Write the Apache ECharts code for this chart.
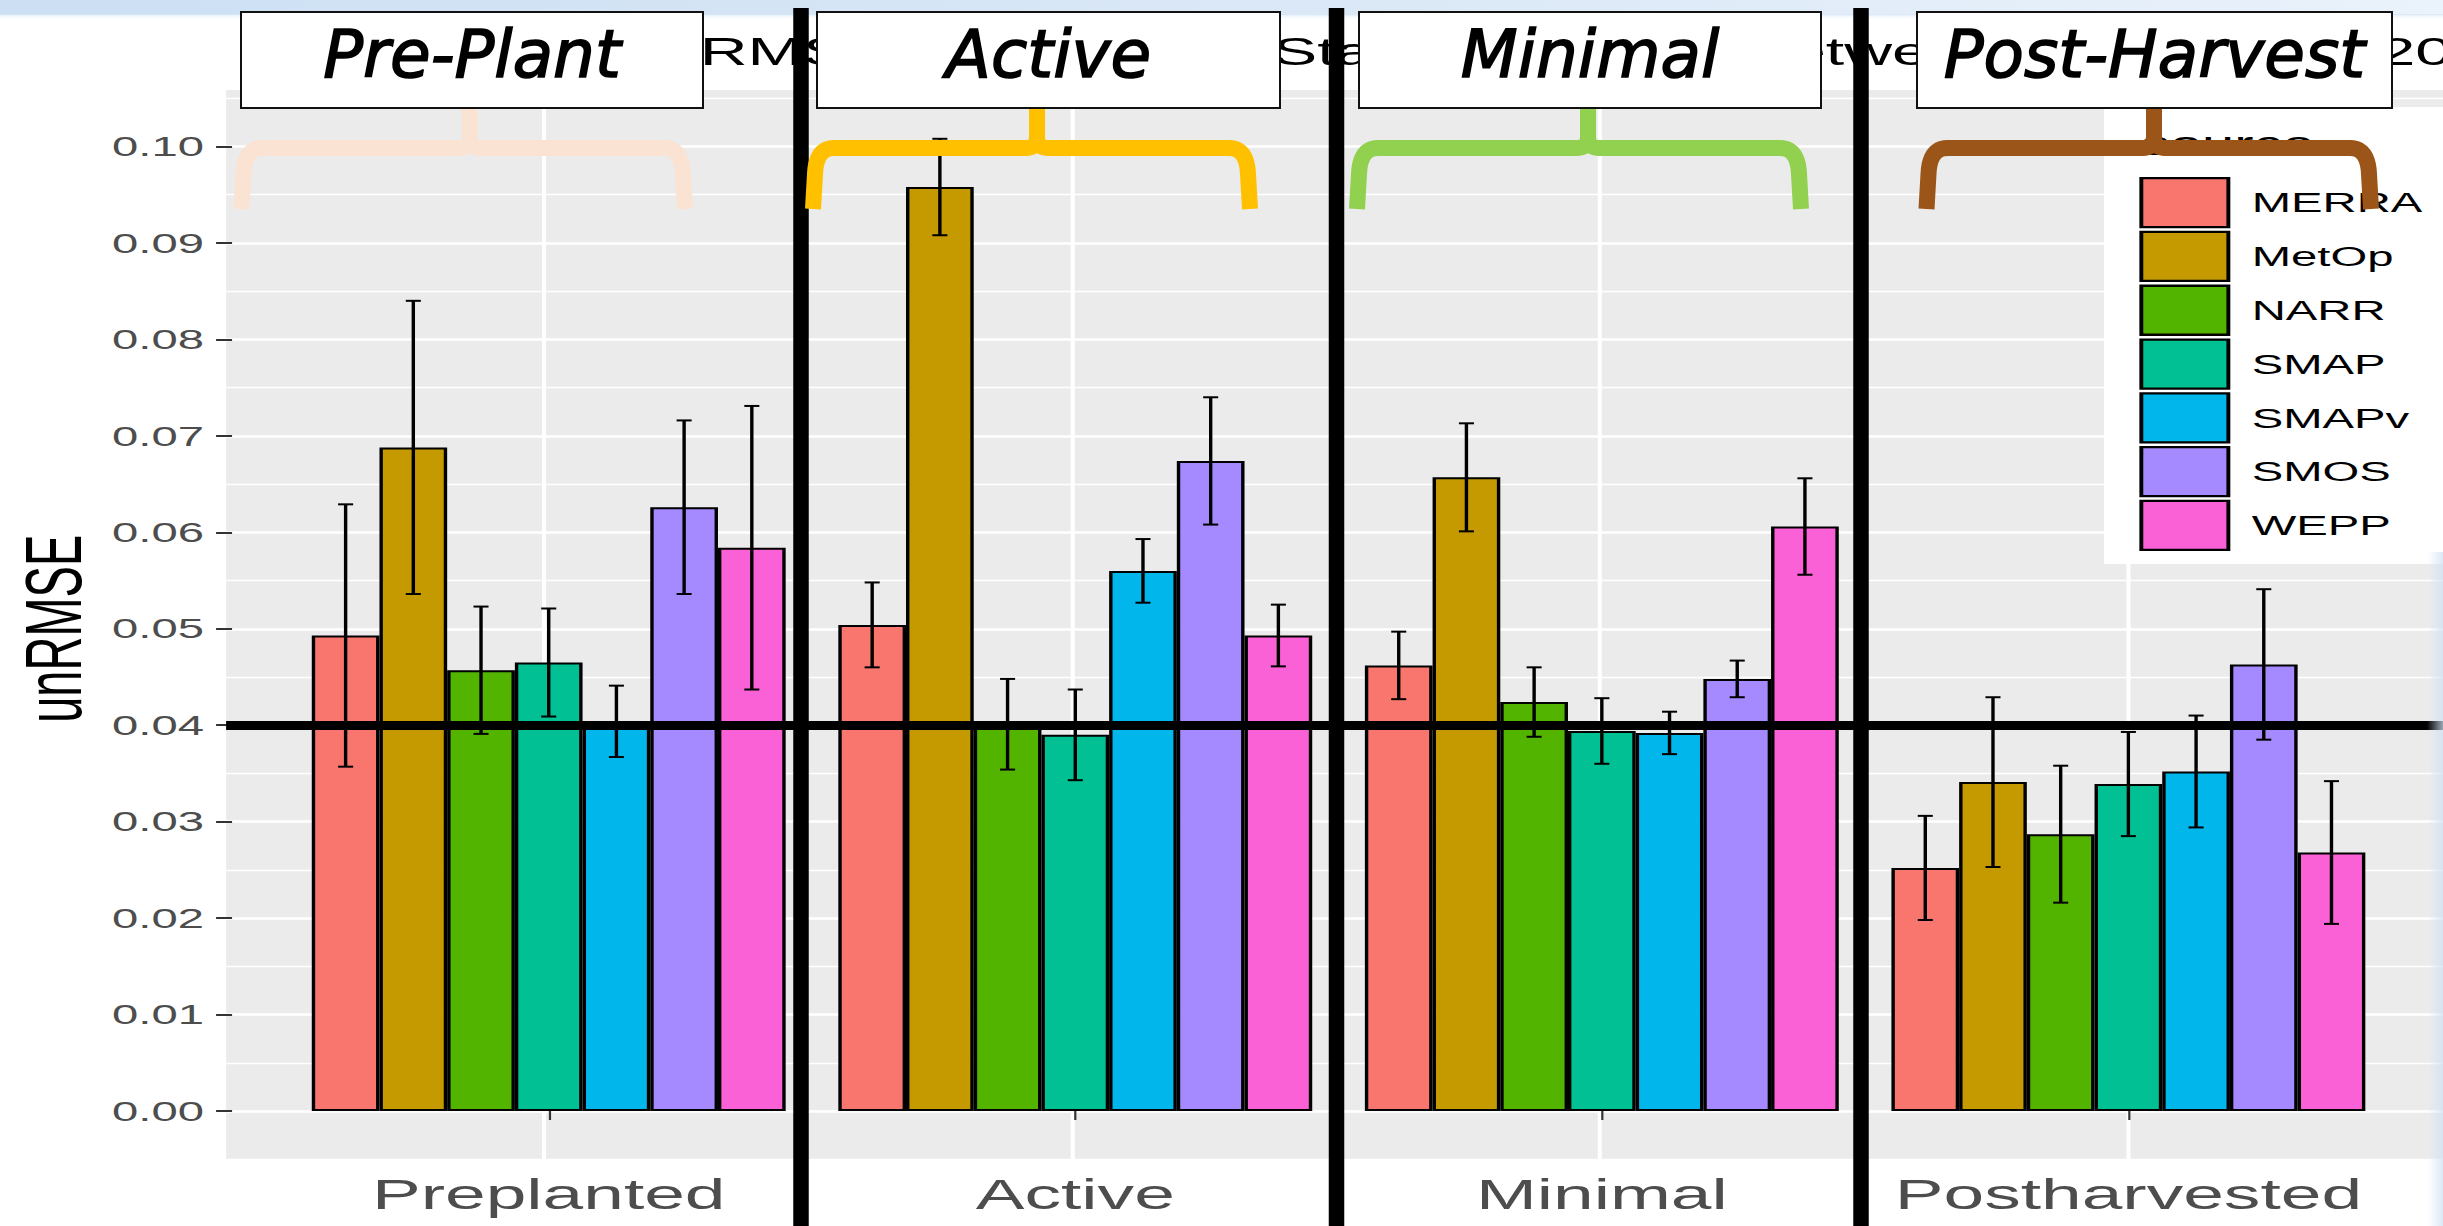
<!DOCTYPE html>
<html>
<head>
<meta charset="utf-8">
<script src="https://cdn.jsdelivr.net/npm/echarts@6/dist/echarts.min.js"></script>
<style>
  html, body { margin: 0; padding: 0; background: #fff; overflow: hidden; }
  #wrap { position: relative; width: 2443px; height: 1226px; overflow: hidden; background: #fff; }
  /* the plot is drawn narrow and widened horizontally, like the exported figure */
  #plot { position: absolute; left: 0; top: 0; width: 1437px; height: 1226px;
          transform: scaleX(1.70007); transform-origin: 0 0; }
  #notes { position: absolute; left: 0; top: 0; width: 2443px; height: 1226px; pointer-events: none; }
</style>
</head>
<body>
<div id="wrap">
  <div id="plot"></div>
  <div id="notes"></div>
</div>
<script>
// ---------- data ----------
const stages  = ['Preplanted', 'Active', 'Minimal', 'Postharvested'];
const sources = ['MERRA', 'MetOp', 'NARR', 'SMAP', 'SMAPv', 'SMOS', 'WEPP'];

// mean unRMSE per stage
const merra  = [0.0493, 0.0504, 0.0462, 0.0252];
const metop  = [0.0688, 0.0958, 0.0657, 0.0341];
const narr   = [0.0457, 0.0401, 0.0424, 0.0287];
const smap   = [0.0465, 0.0390, 0.0394, 0.0339];
const smapv  = [0.0404, 0.0560, 0.0392, 0.0352];
const smos   = [0.0626, 0.0674, 0.0448, 0.0463];
const wepp   = [0.0584, 0.0493, 0.0606, 0.0268];

// half-width of the error bars
const merraSd = [0.0136, 0.0044, 0.0035, 0.0054];
const metopSd = [0.0152, 0.0050, 0.0056, 0.0088];
const narrSd  = [0.0066, 0.0047, 0.0036, 0.0071];
const smapSd  = [0.0056, 0.0047, 0.0034, 0.0054];
const smapvSd = [0.0037, 0.0033, 0.0022, 0.0058];
const smosSd  = [0.0090, 0.0066, 0.0019, 0.0078];
const weppSd  = [0.0147, 0.0032, 0.0050, 0.0074];

const threshold = 0.04;
const stageNotes = ['Pre-Plant', 'Active', 'Minimal', 'Post-Harvest'];
const chartTitle = 'unRMSE for Different Stages of Grain between Sources for 2017';

// ---------- styling ----------
const values = [merra, metop, narr, smap, smapv, smos, wepp];
const spreads = [merraSd, metopSd, narrSd, smapSd, smapvSd, smosSd, weppSd];
const colors = ['#F8766D', '#C49A00', '#53B400', '#00C094', '#00B6EB', '#A58AFF', '#FB61D7'];
const FONT = '"Liberation Sans", Arial, Helvetica, sans-serif';

// layout in the plot's own (unwidened) pixels
const Y0 = 1111, PX = 9645;               // pixel row of 0 and pixels per unit
const yPix = v => Y0 - v * PX;
const PANEL_L = 133, PANEL_W = 1305, PANEL_T = 90, PANEL_B = 1159;
const BAND = 310.6, C0 = 319.7;           // category spacing and first centre

const errData = [];
values.forEach((arr, s) => arr.forEach((v, i) => {
  errData.push([i, s, v - spreads[s][i], v + spreads[s][i]]);
}));

function renderErr(params, api) {
  const cat = api.value(0), s = api.value(1);
  const lo = api.coord([cat, api.value(2)]);
  const hi = api.coord([cat, api.value(3)]);
  const band = api.size([1, 0])[0];
  const x = lo[0] + (s - 3) * band * 0.9 / 7;
  const half = band * 0.1 / 7;
  const style = { stroke: '#000', lineWidth: 2, fill: null };
  return {
    type: 'group',
    children: [
      { type: 'line', shape: { x1: x, y1: hi[1], x2: x, y2: lo[1] }, style },
      { type: 'line', shape: { x1: x - half, y1: hi[1], x2: x + half, y2: hi[1] }, style },
      { type: 'line', shape: { x1: x - half, y1: lo[1], x2: x + half, y2: lo[1] }, style }
    ]
  };
}

const hidden = { show: false };
const plot = echarts.init(document.getElementById('plot'), null, { renderer: 'svg' });
plot.setOption({
  animation: false,
  backgroundColor: '#fff',
  textStyle: { fontFamily: FONT },
  title: [
    { text: chartTitle, left: 368.2, top: 32, padding: 0,
      textStyle: { fontSize: 39, fontWeight: 'normal', color: '#000', fontFamily: FONT } },
    { text: 'source', left: 1259.4, top: 126, padding: 0, z: 8,
      textStyle: { fontSize: 34, fontWeight: 'normal', color: '#000', fontFamily: FONT } }
  ],
  legend: {
    data: sources, orient: 'vertical', left: 1237.6, top: 107,
    padding: [70, 40, 13, 20.8], itemWidth: 51.2, itemHeight: 49, itemGap: 2.5,
    icon: 'rect', backgroundColor: '#fff', selectedMode: false,
    itemStyle: { borderColor: '#000', borderWidth: 2.3 },
    textStyle: { fontSize: 27.8, color: '#000', fontFamily: FONT, padding: [0, 0, 0, 8.7] }
  },
  grid: [
    // 0: grey panel
    { left: PANEL_L, top: PANEL_T, width: PANEL_W, height: PANEL_B - PANEL_T,
      show: true, backgroundColor: '#EBEBEB', borderWidth: 0 },
    // 1: minor horizontal grid
    { left: PANEL_L, top: yPix(0.105), width: PANEL_W, height: yPix(-0.005) - yPix(0.105) },
    // 2: major horizontal grid + threshold line
    { left: PANEL_L, top: yPix(0.1), width: PANEL_W, height: yPix(0) - yPix(0.1) },
    // 3: vertical grid at the category centres
    { left: C0, top: PANEL_T, width: 3 * BAND, height: PANEL_B - PANEL_T },
    // 4: bars
    { left: C0 - BAND / 2, top: yPix(0.1), width: 4 * BAND, height: yPix(0) - yPix(0.1) }
  ],
  xAxis: [
    { gridIndex: 0, type: 'value', min: 0, max: 1, show: false },
    { gridIndex: 1, type: 'value', min: 0, max: 1, show: false },
    { gridIndex: 2, type: 'value', min: 0, max: 1, show: false },
    { gridIndex: 3, type: 'value', min: 0, max: 3, interval: 1, z: 1,
      axisLine: hidden, axisTick: hidden, axisLabel: hidden,
      splitLine: { show: true, lineStyle: { color: '#fff', width: 2.4 } } },
    { gridIndex: 4, type: 'category', data: stages, offset: PANEL_B - Y0, z: 2,
      axisLine: hidden,
      axisTick: { show: true, alignWithLabel: true, length: 9, lineStyle: { color: '#333', width: 1.3 } },
      axisLabel: { interval: 0, margin: 14, fontSize: 43, color: '#4D4D4D', fontFamily: FONT },
      splitLine: hidden }
  ],
  yAxis: [
    { gridIndex: 0, type: 'value', min: 0, max: 1, show: false },
    { gridIndex: 1, type: 'value', min: -0.005, max: 0.105, interval: 0.005, z: 1,
      axisLine: hidden, axisTick: hidden, axisLabel: hidden,
      splitLine: { show: true, lineStyle: { color: '#fff', width: 1.4 } } },
    { gridIndex: 2, type: 'value', min: 0, max: 0.1, interval: 0.01, z: 1,
      axisLine: hidden, axisTick: hidden, axisLabel: hidden,
      splitLine: { show: true, lineStyle: { color: '#fff', width: 2.6 } } },
    { gridIndex: 3, type: 'value', min: 0, max: 1, show: false },
    { gridIndex: 4, type: 'value', min: 0, max: 0.1, interval: 0.01, z: 2,
      offset: C0 - BAND / 2 - PANEL_L,
      axisLine: hidden,
      axisTick: { show: true, length: 9.4, lineStyle: { color: '#333', width: 2 } },
      axisLabel: { margin: 16.5, fontSize: 27.8, color: '#4D4D4D', fontFamily: FONT,
                   formatter: v => v.toFixed(2) },
      splitLine: hidden,
      name: 'unRMSE', nameLocation: 'middle', nameGap: 78,
      nameTextStyle: { fontSize: 47, color: '#000', fontFamily: FONT } }
  ],
  series: [
    ...sources.map((name, s) => ({
      type: 'bar', name, xAxisIndex: 4, yAxisIndex: 4, data: values[s],
      barGap: '0%', barCategoryGap: '10%', z: 3, silent: true,
      itemStyle: { color: colors[s], borderColor: '#000', borderWidth: 2 }
    })),
    { type: 'custom', name: 'error bars', xAxisIndex: 4, yAxisIndex: 4, z: 4, silent: true,
      renderItem: renderErr, data: errData, encode: { x: 0, y: [2, 3] } },
    { type: 'line', name: 'threshold', xAxisIndex: 2, yAxisIndex: 2, data: [], silent: true,
      markLine: { silent: true, z: 6, symbol: ['none', 'none'], label: { show: false },
                  lineStyle: { color: '#000', width: 9, type: 'solid' },
                  data: [{ yAxis: threshold }] } }
  ]
});

// ---------- slide annotations drawn on top (page pixels) ----------
const noteBoxes = [
  { x: 241, w: 462 }, { x: 817, w: 463 }, { x: 1359, w: 462 }, { x: 1917, w: 475 }
];
const braces = [
  { xl: 244.5, xc: 470, xr: 682, color: '#FBE3D3' },
  { xl: 816, xc: 1037, xr: 1247, color: '#FFC000' },
  { xl: 1360, xc: 1588, xr: 1798, color: '#92D050' },
  { xl: 1929.5, xc: 2154, xr: 2368, color: '#9C5518' }
];
const dividers = [801, 1336.5, 1861];

// sample a quadratic curve into polyline points
function quad(p0, p1, p2, n) {
  const pts = [];
  for (let k = 1; k <= n; k++) {
    const t = k / n, a = (1 - t) * (1 - t), b = 2 * t * (1 - t), c = t * t;
    pts.push([a * p0[0] + b * p1[0] + c * p2[0], a * p0[1] + b * p1[1] + c * p2[1]]);
  }
  return pts;
}
// one half of a horizontal curly brace, from a leg end to the centre point
function braceHalf(xLeg, xc, withStem) {
  const ym = 148, yb = 209, yt = 100, r = 18, r2 = 11, dir = xc > xLeg ? 1 : -1;
  const pts = [[xLeg - dir * 3, yb], [xLeg - dir * 1, ym + r + 8]];
  pts.push(...quad([xLeg - dir * 1, ym + r + 8], [xLeg, ym], [xLeg + dir * r, ym], 10));
  pts.push([xc - dir * r2, ym]);
  pts.push(...quad([xc - dir * r2, ym], [xc, ym], [xc, ym - r2], 8));
  if (withStem) pts.push([xc, yt]);
  return pts;
}

const g = [];
g.push({ type: 'rect', shape: { x: 0, y: 0, width: 2443, height: 15 }, silent: true,
  style: { fill: { type: 'linear', x: 0, y: 0, x2: 1, y2: 0, colorStops: [
    { offset: 0, color: '#CCDFF3' }, { offset: 0.6, color: '#DCE9F7' }, { offset: 1, color: '#EAF2FB' }] } } });
g.push({ type: 'rect', shape: { x: 0, y: 14, width: 2443, height: 6 }, silent: true,
  style: { fill: { type: 'linear', x: 0, y: 0, x2: 0, y2: 1, colorStops: [
    { offset: 0, color: 'rgba(214,230,246,0.9)' }, { offset: 1, color: 'rgba(255,255,255,0)' }] } } });
// faint slide background along the right edge
g.push({ type: 'rect', shape: { x: 2427, y: 552, width: 16, height: 674 }, silent: true,
  style: { fill: { type: 'linear', x: 0, y: 0, x2: 1, y2: 0, colorStops: [
    { offset: 0, color: 'rgba(215,231,247,0)' }, { offset: 1, color: 'rgba(205,224,244,0.75)' }] } } });
dividers.forEach(cx => g.push({ type: 'rect', silent: true,
  shape: { x: cx - 7.75, y: 8, width: 15.5, height: 1218 }, style: { fill: '#000' } }));
braces.forEach(b => {
  const style = { stroke: b.color, lineWidth: 16, fill: null, lineJoin: 'round', lineCap: 'butt' };
  g.push({ type: 'polyline', silent: true, shape: { points: braceHalf(b.xl, b.xc, true) }, style });
  g.push({ type: 'polyline', silent: true, shape: { points: braceHalf(b.xr, b.xc, false) }, style });
});
noteBoxes.forEach((b, i) => {
  g.push({ type: 'rect', silent: true, shape: { x: b.x, y: 12, width: b.w, height: 96 },
    style: { fill: '#fff', stroke: '#111', lineWidth: 2 } });
  g.push({ type: 'text', silent: true, x: b.x + b.w / 2, y: 54.5,
    style: { text: stageNotes[i], fill: '#000', stroke: '#000', lineWidth: 1.6,
             align: 'center', verticalAlign: 'middle',
             fontSize: 66, fontStyle: 'italic', fontFamily: '"DejaVu Sans", sans-serif' } });
});

const notes = echarts.init(document.getElementById('notes'), null, { renderer: 'svg' });
notes.setOption({ animation: false, graphic: g });
</script>
</body>
</html>
